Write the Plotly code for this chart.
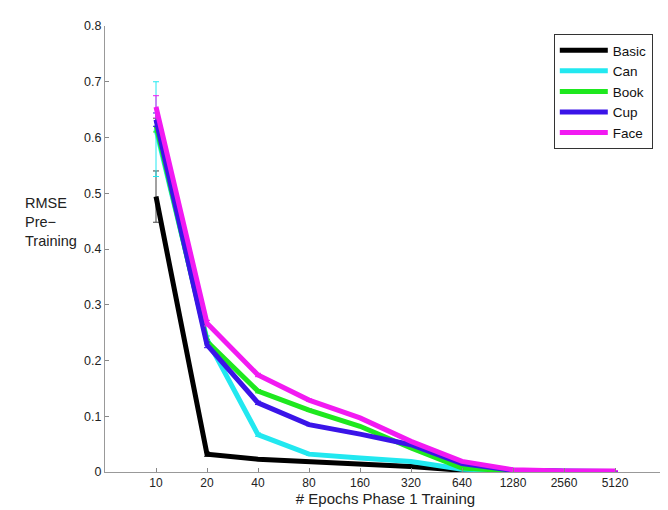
import plotly.graph_objects as go

epochs = ["10", "20", "40", "80", "160", "320", "640", "1280", "2560", "5120"]
series_names = ["Basic", "Can", "Book", "Cup", "Face"]
basic = [0.494, 0.032, 0.023, 0.019, 0.015, 0.010, 0.003, 0.001, 0.001, 0.001]
can = [0.615, 0.238, 0.067, 0.032, 0.025, 0.019, 0.005, 0.002, 0.001, 0.001]
book = [0.622, 0.234, 0.145, 0.111, 0.082, 0.043, 0.007, 0.002, 0.001, 0.001]
cup = [0.632, 0.228, 0.124, 0.085, 0.068, 0.049, 0.015, 0.003, 0.002, 0.001]
face = [0.655, 0.267, 0.174, 0.129, 0.097, 0.055, 0.019, 0.004, 0.002, 0.002]
basic_err = [0.046, 0.004, 0.002, 0.001, 0.001, 0.001, 0.0, 0.0, 0.0, 0.0]
can_err = [0.085, 0.006, 0.003, 0.002, 0.001, 0.001, 0.0, 0.0, 0.0, 0.0]
book_err = [0.012, 0.004, 0.003, 0.002, 0.001, 0.001, 0.0, 0.0, 0.0, 0.0]
cup_err = [0.012, 0.005, 0.003, 0.002, 0.001, 0.001, 0.0, 0.0, 0.0, 0.0]
face_err = [0.02, 0.005, 0.003, 0.002, 0.001, 0.001, 0.0, 0.0, 0.0, 0.0]
y_ticks = [0, 0.1, 0.2, 0.3, 0.4, 0.5, 0.6, 0.7, 0.8]

colors = ["#000000", "#22e8f0", "#1ee81e", "#3a14e8", "#f21af2"]
values = [basic, can, book, cup, face]
errors = [basic_err, can_err, book_err, cup_err, face_err]

x_idx = list(range(1, len(epochs) + 1))
FONT = "Liberation Sans, Arial, Helvetica, sans-serif"

fig = go.Figure()
for name, vals, errs, col in zip(series_names, values, errors, colors):
    fig.add_trace(go.Scatter(
        x=x_idx, y=vals, name=name, mode="lines",
        line=dict(color=col, width=5),
        error_y=dict(type="data", array=errs, visible=True,
                     color=col if name != "Basic" else "#444444",
                     thickness=1, width=3),
    ))

fig.update_layout(
    width=668, height=510,
    margin=dict(l=97, r=10, t=18, b=46),
    paper_bgcolor="white", plot_bgcolor="white",
    font=dict(family=FONT, color="#222222"),
    showlegend=True,
    legend=dict(
        x=0.80, y=0.982, xanchor="left", yanchor="top",
        bordercolor="#333333", borderwidth=1, bgcolor="white",
        font=dict(size=13.5, color="#111111"),
        tracegroupgap=0, itemwidth=48,
    ),
    xaxis=dict(
        range=[0, 11],
        tickvals=x_idx + [len(epochs) + 1],
        ticktext=epochs + [""],
        ticks="inside", ticklen=4, tickcolor="#888888",
        showline=True, linecolor="#999999", linewidth=1,
        showgrid=False, zeroline=False,
        tickfont=dict(size=12, color="#222222"),
        title=dict(text="# Epochs Phase 1 Training", font=dict(size=15, color="#222222"), standoff=3),
    ),
    yaxis=dict(
        range=[0, 0.8],
        tickvals=y_ticks,
        ticktext=["0" if v == 0 else f"{v:.1f}" for v in y_ticks],
        ticks="inside", ticklen=4, tickcolor="#888888",
        showline=True, linecolor="#999999", linewidth=1,
        showgrid=False, zeroline=False,
        tickfont=dict(size=12.5, color="#222222"),
    ),
    annotations=[dict(
        text="RMSE<br>Pre−<br>Training", xref="paper", yref="paper",
        x=-0.146, y=0.56, xanchor="left", yanchor="middle",
        showarrow=False, align="left",
        font=dict(size=14.5, color="#222222", family=FONT),
    )],
)

fig.write_html("out.html")
